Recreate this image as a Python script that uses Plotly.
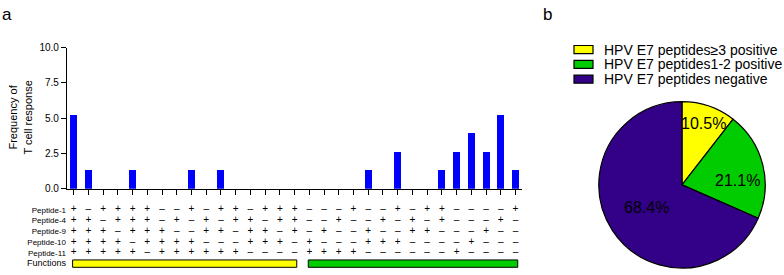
import math
import plotly.graph_objects as go

# ---------------- data ----------------
columns = list(range(1, 32))
frequency = [5.26, 1.32, 0, 0, 1.32, 0, 0, 0, 1.32, 0, 1.32, 0, 0, 0, 0, 0,
             0, 0, 0, 0, 1.32, 0, 2.63, 0, 0, 1.32, 2.63, 3.95, 2.63, 5.26, 1.32]
y_ticks = [0, 2.5, 5, 7.5, 10]

peptide_names = ["Peptide-1", "Peptide-4", "Peptide-9", "Peptide-10", "Peptide-11"]
peptide_p1 = "+-++++--+-++-+++" + "---+--+-++----+"
peptide_p4 = "++-+++-+-+-++-++" + "--+--+-+-+---+-"
peptide_p9 = "+++-+++--++-++-+" + "-+--+--++---+--"
peptide_p10 = "++++-++++---+++-" + "+---+++----+---"
peptide_p11 = "+++++-++++++----" + "++++------+----"
peptide_rows = [peptide_p1, peptide_p4, peptide_p9, peptide_p10, peptide_p11]
functions_label = "Functions"

pie_labels = ["HPV E7 peptides≥3 positive", "HPV E7 peptides1-2 positive", "HPV E7 peptides negative"]
pie_values = [2, 4, 13]
pie_colors = ["#FFFF00", "#00CC00", "#330088"]

# ---------------- helpers ----------------
W, H = 784, 275
FONT = "Liberation Sans, Arial, sans-serif"


def fx(p):
    return p / W


def fy(p):
    return 1 - p / H


fig = go.Figure()

# bars
fig.add_trace(go.Bar(x=columns, y=frequency, marker=dict(color="#0000FF", line=dict(width=0)),
                     width=0.48, xaxis="x", yaxis="y", showlegend=False, hoverinfo="x+y"))

# +/- table
tx, ty, tt = [], [], []
for r, row in enumerate(peptide_rows):
    for c, ch in zip(columns, row):
        tx.append(c)
        ty.append(r)
        tt.append("+" if ch == "+" else "–")
fig.add_trace(go.Scatter(x=tx, y=ty, text=tt, mode="text", textfont=dict(size=10, color="black", family=FONT),
                         xaxis="x", yaxis="y2", showlegend=False, hoverinfo="skip"))

# pie
CX, CY, R = 682, 187, 87
fig.add_trace(go.Pie(values=pie_values, labels=pie_labels, sort=False, direction="clockwise", rotation=0,
                     marker=dict(colors=pie_colors, line=dict(color="black", width=1.2)),
                     textinfo="none", showlegend=False,
                     domain=dict(x=[fx(CX - R), fx(CX + R)], y=[fy(CY + R), fy(CY - R)])))

shapes = []
annotations = []

# functions bars (groups by number of positive peptides)
n_pos = [sum(row[i] == "+" for row in peptide_rows) for i in range(len(columns))]
group_hi = [c for c, n in zip(columns, n_pos) if n >= 3]
group_lo = [c for c, n in zip(columns, n_pos) if n < 3]
func_row = len(peptide_rows)
for grp, col in [(group_hi, pie_colors[0]), (group_lo, pie_colors[1])]:
    shapes.append(dict(type="rect", xref="x", yref="y2", x0=min(grp) - 0.07, x1=max(grp) + 0.15,
                       y0=func_row - 0.33, y1=func_row + 0.36, fillcolor=col,
                       line=dict(color="black", width=1)))

# legend (manual)
for i, (lab, col) in enumerate(zip(pie_labels, pie_colors)):
    cy = 45.5 + i * 15.5
    shapes.append(dict(type="rect", xref="paper", yref="paper", x0=fx(574), x1=fx(593),
                       y0=fy(cy + 4.2), y1=fy(cy - 4.2), fillcolor=col, line=dict(color="black", width=1.2)))
    annotations.append(dict(text=lab, xref="paper", yref="paper", x=fx(602), y=fy(cy), xanchor="left",
                            yanchor="middle", showarrow=False, font=dict(size=14, color="black")))

# pie percentage labels
total = sum(pie_values)
radial = [0.775, 0.64, 0.49]
ang_off = [0, 9, 0]
start = 0
for v, rf, da in zip(pie_values, radial, ang_off):
    mid = start + v / total * 180 + da
    start += v / total * 360
    th = math.radians(mid)
    px_ = CX + rf * R * math.sin(th)
    py_ = CY - rf * R * math.cos(th)
    annotations.append(dict(text=f"{v / total * 100:.1f}%", xref="paper", yref="paper", x=fx(px_), y=fy(py_),
                            xanchor="center", yanchor="middle", showarrow=False,
                            font=dict(size=16, color="black")))

# panel letters and y title
annotations.append(dict(text="a", xref="paper", yref="paper", x=fx(0), y=fy(9), xanchor="left", yanchor="middle",
                        showarrow=False, font=dict(size=17, color="black")))
annotations.append(dict(text="b", xref="paper", yref="paper", x=fx(541), y=fy(9), xanchor="left", yanchor="middle",
                        showarrow=False, font=dict(size=17, color="black")))
annotations.append(dict(text="Frequency of<br>T cell response", xref="paper", yref="paper", x=fx(20),
                        y=fy(116.7), xanchor="center", yanchor="middle", textangle=-90, showarrow=False,
                        font=dict(size=11, color="black")))

fig.update_layout(
    width=W, height=H, margin=dict(l=0, r=0, t=0, b=0),
    paper_bgcolor="white", plot_bgcolor="white",
    font=dict(family=FONT, color="black"),
    bargap=0,
    xaxis=dict(domain=[fx(67), fx(522)], range=[0.55, 31.44], tickvals=columns, showticklabels=False,
               ticks="outside", ticklen=5, tickwidth=1.3, tickcolor="black", showline=True,
               linecolor="black", linewidth=1.3, showgrid=False, zeroline=False, anchor="y"),
    yaxis=dict(domain=[fy(191), fy(43.5)], range=[0, 10], tickvals=y_ticks, tickformat=".1f",
               ticks="outside", ticklen=5, tickwidth=1.3, tickcolor="black", showline=True,
               linecolor="black", linewidth=1.3, showgrid=False, zeroline=False,
               tickfont=dict(size=10, color="black"), anchor="x"),
    yaxis2=dict(domain=[fy(274.8), fy(207.7)], range=[5.5, -0.5], anchor="x",
                tickvals=list(range(len(peptide_names) + 1)),
                ticktext=peptide_names + [f"<span style='font-size:9px'>{functions_label}</span>"],
                ticks="", showline=False, showgrid=False, zeroline=False,
                tickfont=dict(size=8, color="black")),
    shapes=shapes, annotations=annotations,
)

fig.write_html("out.html", config={"displayModeBar": False},
               post_script="document.body.style.margin='0px';document.body.style.overflow='hidden';")
